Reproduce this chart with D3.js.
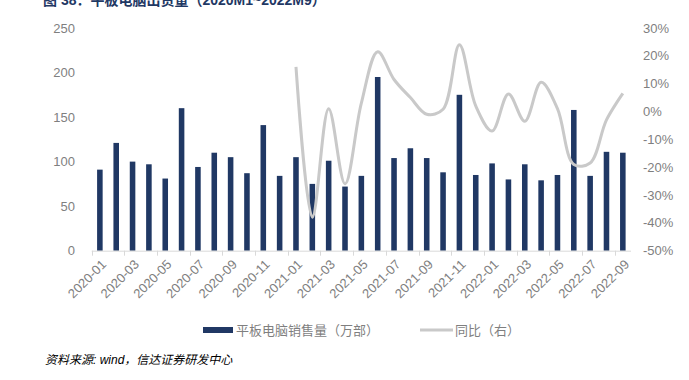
<!DOCTYPE html>
<html lang="zh">
  <head>
    <meta charset="utf-8">
    <title>平板电脑出货量</title>
    <script src="https://cdn.jsdelivr.net/npm/d3@7"></script>
    <style>
      body { margin: 0; background: #fff; }
      text { font-family: "Liberation Sans", Arial, "Noto Sans CJK SC", sans-serif; }
    </style>
    <script>
// monthly data 2020-01 .. 2022-09
var months = ["2020-01","2020-02","2020-03","2020-04","2020-05","2020-06","2020-07","2020-08","2020-09","2020-10","2020-11","2020-12",
              "2021-01","2021-02","2021-03","2021-04","2021-05","2021-06","2021-07","2021-08","2021-09","2021-10","2021-11","2021-12",
              "2022-01","2022-02","2022-03","2022-04","2022-05","2022-06","2022-07","2022-08","2022-09"];

// 平板电脑销售量（万部）
var sales = [91,121,100,97,81,160,94,110,105,87,141,84,
             105,75,101,72,84,195,104,115,104,88,175,85,
             98,80,97,79,85,158,84,111,110];

// 同比（右）, %
var yoy = [null,null,null,null,null,null,null,null,null,null,null,null,
           16,-38,1,-26,3,21.5,11.5,5,-1,0.8,24,2,
           -7,6.3,-3.5,10.5,1,-19,-18.5,-3,6.5];

var leftTicks = [0,50,100,150,200,250];
var rightTicks = [-50,-40,-30,-20,-10,0,10,20,30];

function drawChart() {
  var width = 689, height = 380;
  var x0 = 91.7, x1 = 631, yTop = 28, yBot = 250.7;
  var barColor = "#203864", lineColor = "#c9c9c9", textColor = "#7f7f7f";

  var svg = d3.select("#chart").append("svg")
      .attr("width", width)
      .attr("height", height);

  var x = d3.scaleBand()
      .domain(months)
      .range([x0, x1])
      .paddingInner(0.66)
      .paddingOuter(0.33);

  var yL = d3.scaleLinear().domain([0, 250]).range([yBot, yTop]);
  var yR = d3.scaleLinear().domain([-50, 30]).range([yBot, yTop]);

  // title (cut at the top edge)
  svg.append("text")
      .attr("x", 43).attr("y", 5)
      .style("font-size", "14px")
      .style("font-weight", "bold")
      .style("fill", "#1f3864")
      .text("图 38：平板电脑出货量（2020M1~2022M9）");

  // left axis labels
  svg.append("g").selectAll("text")
      .data(leftTicks)
      .enter().append("text")
      .attr("x", 75)
      .attr("y", function(d) { return yL(d); })
      .attr("dy", "0.35em")
      .attr("text-anchor", "end")
      .style("font-size", "13px")
      .style("fill", textColor)
      .text(function(d) { return d; });

  // right axis labels
  svg.append("g").selectAll("text")
      .data(rightTicks)
      .enter().append("text")
      .attr("x", 643)
      .attr("y", function(d) { return yR(d); })
      .attr("dy", "0.35em")
      .style("font-size", "13px")
      .style("fill", textColor)
      .text(function(d) { return d + "%"; });

  // bars
  svg.append("g").selectAll("rect")
      .data(sales)
      .enter().append("rect")
      .attr("x", function(d, i) { return x(months[i]); })
      .attr("y", function(d) { return yL(d); })
      .attr("width", x.bandwidth())
      .attr("height", function(d) { return yBot - yL(d); })
      .style("fill", barColor);

  // x axis line and boundary ticks
  svg.append("line")
      .attr("x1", x0).attr("x2", x1)
      .attr("y1", yBot + 0.5).attr("y2", yBot + 0.5)
      .style("stroke", "#d9d9d9");

  var step = x.step();
  var tickIdx = d3.range(0, months.length, 2);
  svg.append("g").selectAll("line")
      .data(tickIdx)
      .enter().append("line")
      .attr("x1", function(i) { return Math.round(x0 + i * step) + 0.5; })
      .attr("x2", function(i) { return Math.round(x0 + i * step) + 0.5; })
      .attr("y1", yBot)
      .attr("y2", yBot + 5)
      .style("stroke", "#d9d9d9");

  // x labels
  svg.append("g").selectAll("text")
      .data(tickIdx)
      .enter().append("text")
      .attr("transform", function(i) {
        var cx = x(months[i]) + x.bandwidth() / 2;
        return "translate(" + (cx + 4) + "," + 262 + ") rotate(-45)";
      })
      .attr("text-anchor", "end")
      .attr("dy", "0.35em")
      .style("font-size", "13px")
      .style("fill", textColor)
      .text(function(i) { return months[i]; });

  // yoy line
  var line = d3.line()
      .defined(function(d) { return d != null; })
      .x(function(d, i) { return x(months[i]) + x.bandwidth() / 2; })
      .y(function(d) { return yR(d); })
      .curve(d3.curveCatmullRom.alpha(0.5));

  svg.append("path")
      .datum(yoy)
      .attr("d", line)
      .style("fill", "none")
      .style("stroke", lineColor)
      .style("stroke-width", 3);

  // legend
  var lg = svg.append("g");
  lg.append("rect")
      .attr("x", 203).attr("y", 327)
      .attr("width", 30).attr("height", 6)
      .style("fill", barColor);
  lg.append("text")
      .attr("x", 236).attr("y", 330).attr("dy", "0.35em")
      .style("font-size", "13px")
      .style("fill", textColor)
      .text("平板电脑销售量（万部）");
  lg.append("line")
      .attr("x1", 420).attr("x2", 453)
      .attr("y1", 330).attr("y2", 330)
      .style("stroke", lineColor)
      .style("stroke-width", 3);
  lg.append("text")
      .attr("x", 455).attr("y", 330).attr("dy", "0.35em")
      .style("font-size", "13px")
      .style("fill", textColor)
      .text("同比（右）");

  // source
  svg.append("text")
      .attr("x", 45).attr("y", 360).attr("dy", "0.35em")
      .style("font-size", "12px")
      .style("font-style", "italic")
      .style("fill", "#000")
      .text("资料来源: wind，信达证券研发中心");
}

window.onload = drawChart;
    </script>
  </head>
  <body>
    <div id="chart"></div>
  </body>
</html>
